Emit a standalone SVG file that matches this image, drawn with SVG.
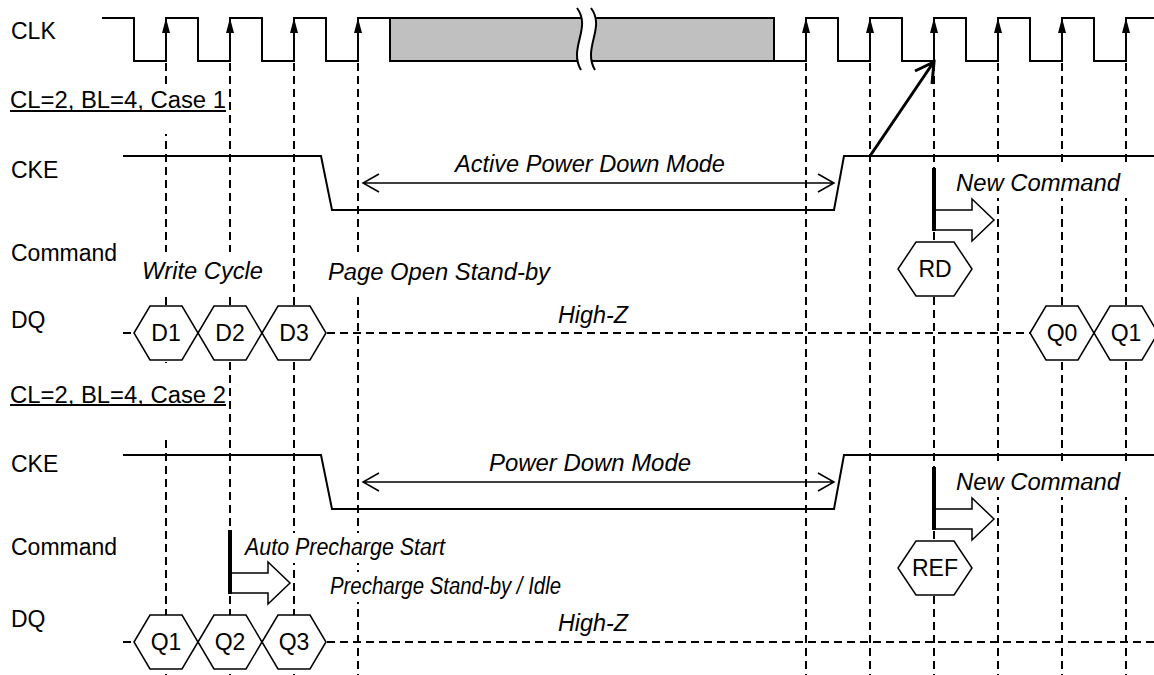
<svg xmlns="http://www.w3.org/2000/svg" width="1154" height="675" viewBox="0 0 1154 675">
<style>
  .t{font-family:"Liberation Sans",Arial,sans-serif;font-size:23px;fill:#000}
  .i{font-style:italic}
  .m{text-anchor:middle}
  .w{fill:none;stroke:#000;stroke-width:2}
  .d{fill:none;stroke:#000;stroke-width:2;stroke-dasharray:8 5}
  .hx{fill:#fff;stroke:#000;stroke-width:1.5}
  .bk{fill:#fff}
  .ba{fill:#fff;stroke:#000;stroke-width:1.5}
  .bar{stroke:#000;stroke-width:4}
</style>
<defs>
  <path id="ah" d="M0,0 L-4,15 L4,15 Z" fill="#000"/>
</defs>
<rect width="1154" height="675" fill="#fff"/>

<g id="grid">
  <path class="d" d="M166,63 V675 M230,63 V675 M294,63 V675 M358,63 V675 M806,63 V675 M870,63 V675 M934,63 V675 M998,63 V675 M1062,63 V675 M1126,63 V675"/>
  <path class="d" d="M123,333 H134 M327,333 H1031"/>
  <path class="d" d="M123,642 H134 M327,642 H1154"/>
</g>

<g id="text-backgrounds">
  <rect class="bk" x="8" y="84" width="219" height="50"/>
  <rect class="bk" x="8" y="363" width="219" height="72"/>
  <rect class="bk" x="139" y="252" width="128" height="41"/>
  <rect class="bk" x="324" y="252" width="230" height="41"/>
  <rect class="bk" x="950" y="166" width="180" height="32"/>
  <rect class="bk" x="950" y="465" width="180" height="32"/>
  <rect class="bk" x="241" y="533" width="208" height="30"/>
  <rect class="bk" x="326" y="572" width="238" height="30"/>
</g>

<g id="clk">
  <text class="t" x="11" y="39">CLK</text>
  <path class="w" d="M102,18 H134 V61 H166 V18 H198 V61 H230 V18 H262 V61 H294 V18 H326 V61 H358 V18 H390"/>
  <rect x="390" y="18" width="384" height="43" fill="#C0C0C0" stroke="#000" stroke-width="2"/>
  <path d="M577,8 C592,28 568,48 581,70 L595,70 C582,48 606,28 591,8 Z" fill="#fff"/>
  <path fill="none" stroke="#000" stroke-width="2" d="M577,8 C592,28 568,48 581,70 M591,8 C606,28 582,48 595,70"/>
  <path class="w" d="M774,61 H806 V18 H838 V61 H870 V18 H902 V61 H934 V18 H966 V61 H998 V18 H1030 V61 H1062 V18 H1094 V61 H1126 V18 H1154"/>
  <use href="#ah" x="166" y="18"/>
  <use href="#ah" x="230" y="18"/>
  <use href="#ah" x="294" y="18"/>
  <use href="#ah" x="358" y="18"/>
  <use href="#ah" x="806" y="18"/>
  <use href="#ah" x="870" y="18"/>
  <use href="#ah" x="934" y="18"/>
  <use href="#ah" x="998" y="18"/>
  <use href="#ah" x="1062" y="18"/>
  <use href="#ah" x="1126" y="18"/>
</g>

<g id="case1">
  <text class="t" x="10" y="108" textLength="216" lengthAdjust="spacingAndGlyphs">CL=2, BL=4, Case 1</text>
  <line x1="10" y1="111" x2="226" y2="111" stroke="#000" stroke-width="2"/>
  <text class="t" x="11" y="178">CKE</text>
  <text class="t" x="11" y="261">Command</text>
  <text class="t" x="11" y="328">DQ</text>
  <path class="w" d="M123,156 H321 L332,210 H834 L844,156 H1154"/>
  <text class="t i m" x="590" y="172" textLength="270" lengthAdjust="spacingAndGlyphs">Active Power Down Mode</text>
  <text class="t i" x="956" y="191" textLength="164" lengthAdjust="spacingAndGlyphs">New Command</text>
  <text class="t i" x="142" y="279" textLength="121" lengthAdjust="spacingAndGlyphs">Write Cycle</text>
  <text class="t i" x="328" y="280" textLength="222" lengthAdjust="spacingAndGlyphs">Page Open Stand-by</text>
  <text class="t i" x="558" y="323" textLength="70" lengthAdjust="spacingAndGlyphs">High-Z</text>
</g>

<g id="node-rd">
  <polygon class="hx" points="898,269 916,242 954,242 972,269 954,296 916,296"/>
  <text class="t m" x="935" y="277">RD</text>
</g>
<g id="node-d1">
  <polygon class="hx" points="134,333 150,306 182,306 198,333 182,360 150,360"/>
  <text class="t m" x="166" y="341">D1</text>
</g>
<g id="node-d2">
  <polygon class="hx" points="198,333 214,306 246,306 262,333 246,360 214,360"/>
  <text class="t m" x="230" y="341">D2</text>
</g>
<g id="node-d3">
  <polygon class="hx" points="262,333 278,306 310,306 326,333 310,360 278,360"/>
  <text class="t m" x="294" y="341">D3</text>
</g>
<g id="node-q0">
  <polygon class="hx" points="1030,333 1046,306 1078,306 1094,333 1078,360 1046,360"/>
  <text class="t m" x="1062" y="341">Q0</text>
</g>
<g id="node-q1">
  <polygon class="hx" points="1094,333 1110,306 1142,306 1158,333 1142,360 1110,360"/>
  <text class="t m" x="1126" y="341">Q1</text>
</g>

<g id="case2">
  <text class="t" x="10" y="403" textLength="216" lengthAdjust="spacingAndGlyphs">CL=2, BL=4, Case 2</text>
  <line x1="10" y1="405" x2="226" y2="405" stroke="#000" stroke-width="2"/>
  <text class="t" x="11" y="472">CKE</text>
  <text class="t" x="11" y="555">Command</text>
  <text class="t" x="11" y="627">DQ</text>
  <path class="w" d="M123,455 H321 L332,509 H834 L844,455 H1154"/>
  <text class="t i m" x="590" y="471" textLength="202" lengthAdjust="spacingAndGlyphs">Power Down Mode</text>
  <text class="t i" x="956" y="490" textLength="164" lengthAdjust="spacingAndGlyphs">New Command</text>
  <text class="t i" x="245" y="555" textLength="200" lengthAdjust="spacingAndGlyphs">Auto Precharge Start</text>
  <text class="t i" x="330" y="594" textLength="231" lengthAdjust="spacingAndGlyphs">Precharge Stand-by / Idle</text>
  <text class="t i" x="558" y="631" textLength="70" lengthAdjust="spacingAndGlyphs">High-Z</text>
</g>

<g id="node-ref">
  <polygon class="hx" points="898,568 916,541 954,541 972,568 954,595 916,595"/>
  <text class="t m" x="935" y="576">REF</text>
</g>
<g id="node-q1b">
  <polygon class="hx" points="134,642 150,615 182,615 198,642 182,669 150,669"/>
  <text class="t m" x="166" y="650">Q1</text>
</g>
<g id="node-q2b">
  <polygon class="hx" points="198,642 214,615 246,615 262,642 246,669 214,669"/>
  <text class="t m" x="230" y="650">Q2</text>
</g>
<g id="node-q3b">
  <polygon class="hx" points="262,642 278,615 310,615 326,642 310,669 278,669"/>
  <text class="t m" x="294" y="650">Q3</text>
</g>

<g id="connectors">
  <path fill="none" stroke="#000" stroke-width="1.5" d="M363,183 H834 M379,174 L363,183 L379,192 M818,174 L834,183 L818,192"/>
  <path fill="none" stroke="#000" stroke-width="1.5" d="M363,482 H834 M379,473 L363,482 L379,491 M818,473 L834,482 L818,491"/>
  <path fill="none" stroke="#000" stroke-width="3" d="M870,156 L933,63 M915,71 L934,62 L932,84"/>
  <polygon class="ba" points="934,210 972,210 972,199 994,220 972,241 972,230 934,230"/>
  <line class="bar" x1="934" y1="168" x2="934" y2="231"/>
  <polygon class="ba" points="934,509 972,509 972,498 994,519 972,540 972,529 934,529"/>
  <line class="bar" x1="934" y1="467" x2="934" y2="530"/>
  <polygon class="ba" points="230,573 268,573 268,562 290,583 268,604 268,593 230,593"/>
  <line class="bar" x1="230" y1="530" x2="230" y2="594"/>
</g>
</svg>
